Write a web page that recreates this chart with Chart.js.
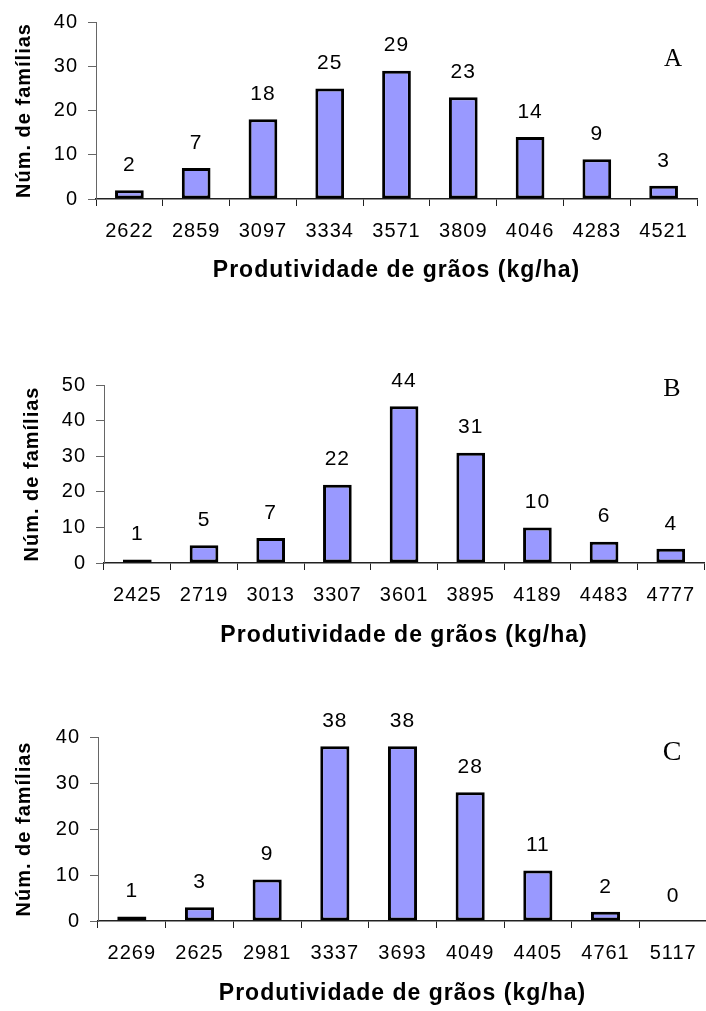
<!DOCTYPE html>
<html>
<head>
<meta charset="utf-8">
<script src="https://cdn.jsdelivr.net/npm/chart.js@4.4.0/dist/chart.umd.min.js"></script>
<style>
  html, body { margin: 0; padding: 0; background: #fff; width: 706px; height: 1011px; overflow: hidden; }
  canvas { position: absolute; left: 0; }
</style>
</head>
<body>
<canvas id="chartA" style="top:0px" width="706" height="300"></canvas>
<canvas id="chartB" style="top:340px" width="706" height="320"></canvas>
<canvas id="chartC" style="top:680px" width="708" height="331"></canvas>
<script>
// class midpoints (kg/ha) and number of families per class
const labelsA = ["2622", "2859", "3097", "3334", "3571", "3809", "4046", "4283", "4521"];
const valuesA = [2, 7, 18, 25, 29, 23, 14, 9, 3];

const labelsB = ["2425", "2719", "3013", "3307", "3601", "3895", "4189", "4483", "4777"];
const valuesB = [1, 5, 7, 22, 44, 31, 10, 6, 4];

const labelsC = ["2269", "2625", "2981", "3337", "3693", "4049", "4405", "4761", "5117"];
const valuesC = [1, 3, 9, 38, 38, 28, 11, 2, 0];

const FONT = "'Liberation Sans', Arial, sans-serif";
const X_TITLE = "Produtividade de grãos (kg/ha)";
const Y_TITLE = "Núm. de famílias";

// the original text looks slightly spaced out
const spacing = {
    id: "spacing",
    beforeDraw(chart) {
        chart.ctx.letterSpacing = "1px";
    },
};

// value on top of every bar
const valueLabels = {
    id: "valueLabels",
    afterDatasetsDraw(chart) {
        const ctx = chart.ctx;
        const meta = chart.getDatasetMeta(0);
        const data = chart.data.datasets[0].data;
        ctx.save();
        ctx.font = "21px " + FONT;
        ctx.fillStyle = "#000";
        ctx.textAlign = "center";
        ctx.textBaseline = "middle";
        meta.data.forEach((bar, i) => {
            ctx.fillText(String(data[i]), bar.x, bar.y - 25);
        });
        ctx.restore();
    },
};

// panel letter (A, B, C)
const panelLetter = {
    id: "panelLetter",
    afterDraw(chart, args, opts) {
        const ctx = chart.ctx;
        ctx.save();
        ctx.letterSpacing = "0px";
        ctx.font = opts.size + "px 'Liberation Serif', 'Times New Roman', serif";
        ctx.fillStyle = "#000";
        ctx.textAlign = "center";
        ctx.textBaseline = "middle";
        ctx.fillText(opts.text, opts.x, opts.y);
        ctx.restore();
    },
};

function makeChart(id, labels, values, maxY, panel) {
    return new Chart(document.getElementById(id), {
        type: "bar",
        data: {
            labels: labels,
            datasets: [
                {
                    data: values,
                    backgroundColor: "#9999FF",
                    borderColor: "#000",
                    borderWidth: 3,
                    borderSkipped: false,
                    categoryPercentage: 1,
                    barPercentage: 0.43,
                },
            ],
        },
        options: {
            responsive: false,
            animation: false,
            devicePixelRatio: 1,
            layout: { padding: panel.pad },
            plugins: {
                legend: { display: false },
                tooltip: { enabled: false },
                panelLetter: panel.letter,
            },
            scales: {
                x: {
                    afterFit: (s) => { s.height = panel.xHeight; },
                    grid: { display: true, drawOnChartArea: false, drawTicks: true, tickLength: 7, color: "#222", offset: true },
                    border: { display: true, color: "#222", width: 1.5 },
                    ticks: { color: "#000", padding: 13, maxRotation: 0, font: { size: 20, family: FONT } },
                    title: {
                        display: true,
                        text: X_TITLE,
                        color: "#000",
                        padding: { top: 0, bottom: panel.xTitlePad },
                        font: { size: 23, weight: "bold", family: FONT },
                    },
                },
                y: {
                    min: 0,
                    max: maxY,
                    afterFit: (s) => { s.width = panel.yWidth; },
                    grid: { display: true, drawOnChartArea: false, drawTicks: true, tickLength: 8, color: "#666" },
                    border: { display: true, color: "#666", width: 1 },
                    ticks: { stepSize: 10, color: "#000", padding: 10, font: { size: 20, family: FONT } },
                    title: {
                        display: true,
                        text: Y_TITLE,
                        color: "#000",
                        padding: { top: 10, bottom: 0 },
                        font: { size: 20, weight: "bold", family: FONT },
                    },
                },
            },
        },
        plugins: [spacing, valueLabels, panelLetter],
    });
}

makeChart("chartA", labelsA, valuesA, 40, {
    pad: { top: 20, right: 9, left: 2, bottom: 0 },
    yWidth: 94,
    xHeight: 101,
    xTitlePad: 16,
    letter: { text: "A", x: 673, y: 59, size: 25 },
});

makeChart("chartB", labelsB, valuesB, 50, {
    pad: { top: 45, right: 0, left: 10, bottom: 0 },
    yWidth: 94,
    xHeight: 97,
    xTitlePad: 11,
    letter: { text: "B", x: 672, y: 49, size: 26 },
});

makeChart("chartC", labelsC, valuesC, 40, {
    pad: { top: 57, right: 1, left: 2, bottom: 0 },
    yWidth: 96,
    xHeight: 90,
    xTitlePad: 4,
    letter: { text: "C", x: 672, y: 73, size: 28 },
});
</script>
</body>
</html>
